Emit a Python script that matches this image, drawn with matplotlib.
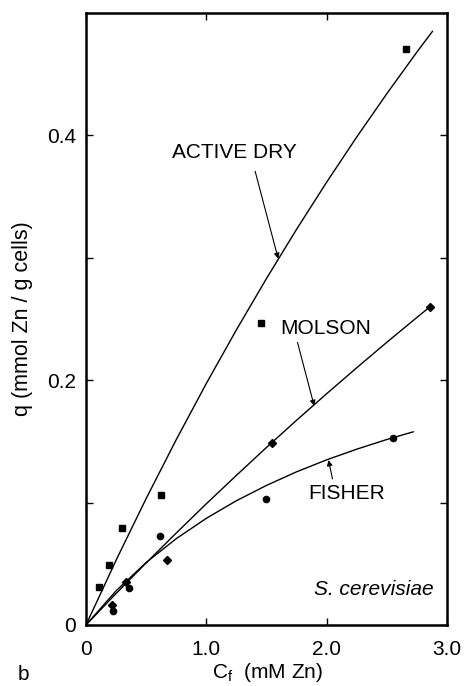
import matplotlib
matplotlib.use("Agg")
import matplotlib.pyplot as plt

plt.rcParams['font.family'] = ['Liberation Sans', 'DejaVu Sans']

# Measured data points
active_x = [0.106, 0.194, 0.30, 0.624, 1.456, 2.66]
active_y = [0.031, 0.049, 0.079, 0.106, 0.247, 0.471]
molson_x = [0.216, 0.333, 0.67, 1.55, 2.862]
molson_y = [0.0164, 0.0355, 0.053, 0.149, 0.260]
fisher_x = [0.222, 0.36, 0.616, 1.495, 2.55]
fisher_y = [0.0117, 0.030, 0.0727, 0.103, 0.1525]

# Fitted curves
active_cx = [0, 0.25, 0.5, 0.75, 1.0, 1.25, 1.5, 1.75, 2.0, 2.25, 2.5, 2.75, 2.88]
active_cy = [0, 0.0529, 0.1033, 0.1514, 0.1973, 0.2411, 0.2830, 0.3232, 0.3617, 0.3986, 0.434, 0.468, 0.485]
molson_cx = [0, 0.25, 0.5, 0.75, 1.0, 1.25, 1.5, 1.75, 2.0, 2.25, 2.5, 2.75, 2.86]
molson_cy = [0, 0.0257, 0.0507, 0.0751, 0.0990, 0.1222, 0.1450, 0.1672, 0.1889, 0.2101, 0.2309, 0.2512, 0.260]
fisher_cx = [0, 0.25, 0.5, 0.75, 1.0, 1.25, 1.5, 1.75, 2.0, 2.25, 2.5, 2.72]
fisher_cy = [0, 0.0279, 0.0510, 0.0705, 0.0871, 0.1015, 0.1140, 0.1251, 0.1349, 0.1436, 0.1515, 0.1578]

x_ticks = [0, 1.0, 2.0, 3.0]
x_ticklabels = ['0', '1.0', '2.0', '3.0']
y_ticks = [0, 0.1, 0.2, 0.3, 0.4]
y_ticklabels = ['0', '', '0.2', '', '0.4']

fig = plt.figure(figsize=(4.65, 6.86), dpi=100)
ax = fig.add_axes([0.185, 0.089, 0.776, 0.892])

lw = 1.0
ax.plot(active_cx, active_cy, color='black', lw=lw)
ax.plot(molson_cx, molson_cy, color='black', lw=lw)
ax.plot(fisher_cx, fisher_cy, color='black', lw=lw)

ax.plot(active_x, active_y, 's', color='black', ms=4.5, ls='none')
ax.plot(molson_x, molson_y, 'D', color='black', ms=3.8, ls='none')
ax.plot(fisher_x, fisher_y, 'o', color='black', ms=4.5, ls='none')

ax.set_xlim(0, 3.0)
ax.set_ylim(0, 0.5)
ax.set_xticks(x_ticks)
ax.set_xticklabels(x_ticklabels)
ax.set_yticks(y_ticks)
ax.set_yticklabels(y_ticklabels)
ax.tick_params(direction='in', length=5, width=1, top=True, right=True,
               labelsize=15)
ax.tick_params(axis='x', pad=11)
ax.tick_params(axis='y', pad=7)
for s in ax.spines.values():
    s.set_linewidth(1.8)

fs = 15
arrow = dict(arrowstyle='-|>', color='black', lw=0.8, mutation_scale=8, shrinkA=0, shrinkB=0)
ax.text(1.235, 0.386, 'ACTIVE DRY', fontsize=fs, ha='center', va='center')
ax.annotate('', xy=(1.598, 0.2992), xytext=(1.406, 0.3707), arrowprops=arrow)
ax.text(1.99, 0.2424, 'MOLSON', fontsize=fs, ha='center', va='center')
ax.annotate('', xy=(1.897, 0.179), xytext=(1.758, 0.2309), arrowprops=arrow)
ax.text(2.167, 0.107, 'FISHER', fontsize=fs, ha='center', va='center')
ax.annotate('', xy=(2.016, 0.1347), xytext=(2.049, 0.1194), arrowprops=arrow)
ax.text(2.89, 0.0287, 'S. cerevisiae', fontsize=fs, style='italic', ha='right', va='center')

fig.text(268 / 465, 1 - 673 / 686, r'C$_\mathregular{f}$  (mM Zn)', fontsize=fs,
         ha='center', va='center')
ax.set_ylabel('q (mmol Zn / g cells)', fontsize=15.5, labelpad=10)
fig.text(18 / 465, 1 - 675 / 686, 'b', fontsize=fs, ha='left', va='center')

fig.savefig('out.png', dpi=100)
